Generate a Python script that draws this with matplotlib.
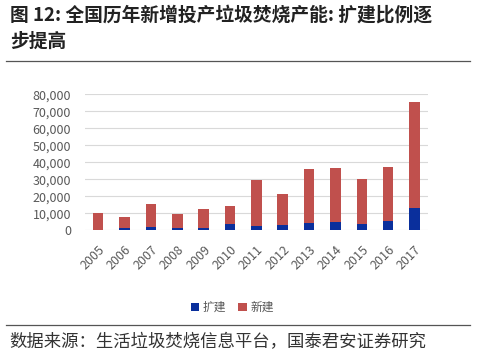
import matplotlib
matplotlib.use("Agg")
import matplotlib.pyplot as plt
import numpy as np

plt.rcParams['font.family'] = ['Noto Sans CJK SC', 'DejaVu Sans']

# 数据
years = ['2005', '2006', '2007', '2008', '2009', '2010', '2011',
         '2012', '2013', '2014', '2015', '2016', '2017']
kuojian = [300, 1300, 2000, 1700, 1400, 3900, 2500, 3100, 4500, 5100, 3900, 5300, 13100]
totals = [10200, 7800, 15700, 9800, 12700, 14500, 29400, 21400, 36300, 36500, 30400, 37100, 75300]
xinjian = [t - k for t, k in zip(totals, kuojian)]

fig = plt.figure(figsize=(4.86, 3.6), dpi=100)

# 标题
fig.text(0.02, 0.985, '图 12: 全国历年新增投产垃圾焚烧产能: 扩建比例逐\n步提高',
         fontsize=13.5, fontweight='bold', va='top', ha='left', linespacing=1.5,
         color='#222222')
fig.add_artist(plt.Line2D([0.012, 0.968], [0.831, 0.831], color='#555555', lw=0.9))

ax = fig.add_axes([0.175, 0.36, 0.705, 0.378])
x = np.arange(len(years))
ax.bar(x, kuojian, width=0.4, color='#0A2F9C', label='扩建', zorder=3)
ax.bar(x, xinjian, width=0.4, bottom=kuojian, color='#C0504D', label='新建', zorder=3)

ax.set_ylim(0, 80000)
ax.set_yticks(range(0, 80001, 10000))
ax.set_yticklabels([f'{v:,}' for v in range(0, 80001, 10000)])
ax.set_xlim(-0.5, len(years) - 0.5)
ax.set_xticks(x)
ax.set_xticklabels(years, rotation=45, ha='right', rotation_mode='anchor')
ax.grid(axis='y', color='#d9d9d9', lw=0.8, zorder=0)
for s in ax.spines.values():
    s.set_visible(False)
ax.tick_params(length=0, labelsize=9, colors='#595959')
ax.tick_params(axis='y', pad=10)
ax.tick_params(axis='x', pad=9)

ax.legend(loc='upper center', bbox_to_anchor=(0.43, -0.44), ncol=2, frameon=False,
          fontsize=8.5, handlelength=0.7, handleheight=0.7, columnspacing=1.0,
          handletextpad=0.3, labelcolor='#595959')

# 来源
fig.add_artist(plt.Line2D([0.012, 0.968], [0.097, 0.097], color='#555555', lw=0.9))
fig.text(0.02, 0.05, '数据来源：生活垃圾焚烧信息平台，国泰君安证券研究',
         fontsize=12.5, va='center', ha='left', color='#333333')

fig.savefig('out.png', dpi=100)
